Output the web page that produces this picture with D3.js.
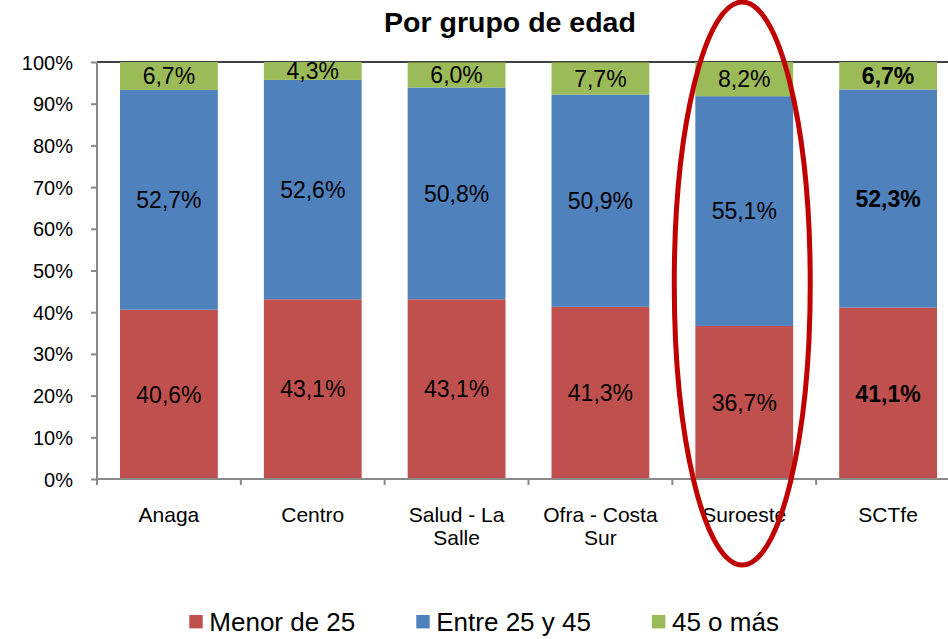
<!DOCTYPE html>
<html><head><meta charset="utf-8">
<script src="https://cdn.jsdelivr.net/npm/d3@7"></script>
<style>body{margin:0;background:#fff}svg{display:block;font-family:"Liberation Sans",Arial,sans-serif}</style>
</head><body><svg id="c" width="948" height="639"></svg>
<script>
const categories = ["Anaga","Centro","Salud - La Salle","Ofra - Costa Sur","Suroeste","SCTfe"];
const seriesNames = ["Menor de 25","Entre 25 y 45","45 o más"];
const menor25 = [40.6,43.1,43.1,41.3,36.7,41.1];
const entre25y45 = [52.7,52.6,50.8,50.9,55.1,52.3];
const mas45 = [6.7,4.3,6.0,7.7,8.2,6.7];
const yTicks = [0,10,20,30,40,50,60,70,80,90,100];
const colors = ["#C0504D","#4F81BD","#9BBB59"];
const boldCategory = "SCTfe";
const highlightCategory = "Suroeste";

const svg = d3.select("#c");
const x = d3.scaleBand().domain(categories).range([97,960]).paddingInner(0.32).paddingOuter(0.16);
const y = d3.scaleLinear().domain([0,100]).range([479,62]);

// title
svg.append("text").attr("x",510).attr("y",32).attr("text-anchor","middle")
  .attr("font-size",28.5).attr("font-weight","bold").attr("fill","#000").text("Por grupo de edad");

// top frame line
svg.append("line").attr("x1",97).attr("x2",948).attr("y1",y(100)).attr("y2",y(100))
  .attr("stroke","#000").attr("stroke-width",1.5);

// stacked data
const rows = categories.map((c,i)=>({cat:c, v:[menor25[i],entre25y45[i],mas45[i]]}));
rows.forEach(r=>{
  let acc=0;
  r.v.forEach((val,k)=>{
    const y0=acc, y1=acc+val; acc=y1;
    svg.append("rect").attr("x",x(r.cat)).attr("width",x.bandwidth())
      .attr("y",y(Math.min(y1,100))).attr("height",y(y0)-y(Math.min(y1,100))).attr("fill",colors[k]);
  });
});
rows.forEach(r=>{
  let acc=0;
  r.v.forEach((val,k)=>{
    const mid=acc+val/2; acc+=val;
    svg.append("text").attr("x",x(r.cat)+x.bandwidth()/2).attr("y",y(mid)+8.2)
      .attr("text-anchor","middle").attr("font-size",23)
      .attr("font-weight",r.cat===boldCategory?"bold":"normal").attr("fill","#000")
      .text(val.toFixed(1).replace(".",",")+"%");
  });
});

// y axis
const yAxis = svg.append("g").attr("transform","translate(97,0)")
  .call(d3.axisLeft(y).tickValues(yTicks).tickSize(6).tickPadding(18).tickFormat(d=>d+"%"));
yAxis.select(".domain").attr("stroke","#898989").attr("stroke-width",2).attr("d","M0,"+y(100)+"V"+y(0));
yAxis.selectAll(".tick line").attr("stroke","#898989").attr("stroke-width",2);
yAxis.selectAll(".tick text").attr("font-size",20).attr("fill","#000").attr("font-family","Liberation Sans, Arial, sans-serif").attr("dy","0.35em");

// x axis line
svg.append("line").attr("x1",97).attr("x2",948).attr("y1",y(0)).attr("y2",y(0))
  .attr("stroke","#898989").attr("stroke-width",2);
const gap = (x.step()-x.bandwidth())/2;
categories.forEach((c,i)=>{
  const bx = x(c)-gap;
  svg.append("line").attr("x1",bx).attr("x2",bx).attr("y1",y(0)).attr("y2",y(0)+6)
    .attr("stroke","#898989").attr("stroke-width",2);
});
// x labels with wrapping
categories.forEach(c=>{
  const t = svg.append("text").attr("text-anchor","middle").attr("font-size",21).attr("fill","#000");
  const cx = x(c)+x.bandwidth()/2;
  const words = c.split(" ");
  let lines=[], cur=[];
  const maxW = x.step()*0.85;
  const probe = svg.append("text").attr("font-size",21);
  words.forEach(w=>{
    const test = cur.concat([w]).join(" ");
    probe.text(test);
    if (probe.node().getComputedTextLength()>maxW && cur.length){ lines.push(cur.join(" ")); cur=[w]; }
    else cur.push(w);
  });
  lines.push(cur.join(" "));
  probe.remove();
  lines.forEach((l,j)=>t.append("tspan").attr("x",cx).attr("y",521.7+j*23.5).text(l));
});

// highlight ellipse
const hc = x(highlightCategory)+x.bandwidth()/2 - 2;
svg.append("ellipse").attr("cx",hc).attr("cy",(y(100)-60+y(0)+86)/2)
  .attr("rx",68).attr("ry",(y(0)+86-(y(100)-60))/2)
  .attr("fill","none").attr("stroke","#C00000").attr("stroke-width",5);

// legend
let lx = 189.3;
seriesNames.forEach((s,k)=>{
  svg.append("rect").attr("x",lx).attr("y",615).attr("width",13.4).attr("height",13.4).attr("fill",colors[k]);
  const t = svg.append("text").attr("x",lx+20).attr("y",631).attr("font-size",26).attr("fill","#000").text(s);
  lx = lx+20+t.node().getComputedTextLength()+61;
});
</script></body></html>
